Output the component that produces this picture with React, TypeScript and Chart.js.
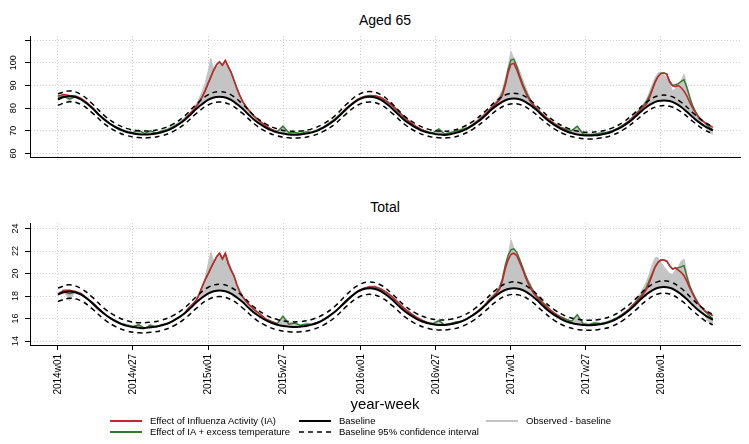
import React, { useEffect, useRef } from 'react';
import { Chart, registerables } from 'chart.js';

Chart.register(...registerables);

const FONT = "'Liberation Sans', Arial, sans-serif";

// x positions are week indices counted from 2014w01 (= 0)
const tickWeeks = [0, 26, 52, 78, 105, 131, 157, 183, 209];
const tickLabels = ['2014w01', '2014w27', '2015w01', '2015w27', '2016w01', '2016w27', '2017w01', '2017w27', '2018w01'];

const weeksBase = [
  0, 2, 4, 6, 8, 10, 12, 14, 16, 18, 20, 22, 24, 26, 28, 30, 32, 34, 36, 38,
  40, 42, 44, 46, 48, 50, 52, 54, 56, 58, 60, 62, 64, 66, 68, 70, 72, 74, 76, 78,
  80, 82, 84, 86, 88, 90, 92, 94, 96, 98, 100, 102, 104, 106, 108, 110, 112, 114, 116, 118,
  120, 122, 124, 126, 128, 130, 132, 134, 136, 138, 140, 142, 144, 146, 148, 150, 152, 154, 156, 158,
  160, 162, 164, 166, 168, 170, 172, 174, 176, 178, 180, 182, 184, 186, 188, 190, 192, 194, 196, 198,
  200, 202, 204, 206, 208, 210, 212, 214, 216, 218, 220, 222, 224, 226, 227,
];

const weeksCI = [
  0, 4, 8, 12, 16, 20, 24, 28, 32, 36, 40, 44, 48, 52, 56, 60, 64, 68, 72, 76,
  80, 84, 88, 92, 96, 100, 104, 108, 112, 116, 120, 124, 128, 132, 136, 140, 144, 148, 152, 156,
  160, 164, 168, 172, 176, 180, 184, 188, 192, 196, 200, 204, 208, 212, 216, 220, 224, 227,
];

const weeksFine = [
  0, 2, 4, 6, 8, 10, 12, 14, 16, 18, 20, 22, 24, 26, 28, 30, 32, 34, 36, 38, 40, 42, 44,
  45, 46, 47, 48, 49, 50, 51, 52, 53, 54, 55, 56, 57, 58, 59, 60, 61, 62, 63, 64, 65, 66, 67, 68, 69, 70,
  72, 74, 76, 78, 80, 82, 84, 86, 88, 90, 92, 94, 96, 98, 100, 102, 104, 106, 108, 110,
  112, 114, 116, 118, 120, 122, 124, 126, 128, 130, 132, 134, 136, 138, 140, 142, 144, 146, 148,
  149, 150, 151, 152, 153, 154, 155, 156, 157, 158, 159, 160, 161, 162, 163, 164, 165, 166, 167, 168, 169, 170, 171, 172,
  174, 176, 178, 180, 182, 184, 186, 188, 190, 192, 194, 196, 198,
  199, 200, 201, 202, 203, 204, 205, 206, 207, 208, 209, 210, 211, 212, 213, 214, 215, 216, 217, 218, 219, 220, 221, 222, 223, 224, 225, 226, 227,
];

// ---------- Aged 65 ----------
const base65 = [
  83.8, 84.9, 85.2, 84.9, 83.8, 82.0, 79.8, 77.3, 75.0, 73.1,
  71.5, 70.3, 69.4, 68.85, 68.5, 68.4, 68.5, 68.8, 69.4, 70.2,
  71.4, 73.0, 74.9, 77.2, 79.7, 81.8, 83.6, 84.7, 85.0, 84.7,
  83.6, 81.8, 79.7, 77.2, 74.9, 73.0, 71.4, 70.2, 69.3, 68.8,
  68.4, 68.3, 68.4, 68.75, 69.3, 70.1, 71.4, 73.0, 74.8, 77.15,
  79.65, 81.8, 83.6, 84.7, 85.0, 84.7, 83.6, 81.8, 79.65, 77.15,
  74.8, 73.0, 71.4, 70.1, 69.3, 68.75, 68.4, 68.2, 68.5, 69.1,
  69.9, 71.1, 72.6, 74.4, 76.6, 79.05, 81.1, 82.8, 83.9, 84.2,
  83.9, 82.8, 81.1, 79.05, 76.6, 74.4, 72.6, 71.1, 69.9, 69.0,
  68.4, 68.0, 67.9, 68.0, 68.3, 68.8, 69.6, 70.8, 72.2, 73.95,
  76.1, 78.4, 80.5, 82.1, 83.1, 83.4, 83.1, 82.1, 80.5, 78.4,
  76.1, 73.95, 72.2, 70.8, 70.2,
];
const upper65 = [
  86.3, 87.6, 86.0, 81.8, 76.8, 73.15, 70.95, 70.0, 70.0, 70.95,
  73.05, 76.7, 81.75, 85.83, 87.3, 85.83, 81.75, 76.7, 73.05, 70.85,
  69.9, 69.9, 70.85, 73.05, 76.6, 81.7, 85.83, 87.3, 85.83, 81.7,
  76.6, 73.05, 70.85, 69.9, 70.0, 71.5, 74.3, 78.5, 83.25, 86.2,
  86.2, 83.25, 78.5, 74.3, 71.5, 69.9, 69.4, 69.8, 71.2, 73.9,
  78.0, 82.65, 85.4, 85.4, 82.65, 78.0, 73.9, 71.8,
];
const lower65 = [
  81.3, 82.8, 81.6, 77.8, 73.2, 69.85, 67.85, 67.0, 67.0, 67.85,
  69.75, 73.1, 77.65, 81.37, 82.7, 81.37, 77.65, 73.1, 69.75, 67.75,
  66.9, 66.9, 67.75, 69.75, 73.0, 77.6, 81.37, 82.7, 81.37, 77.6,
  73.0, 69.75, 67.75, 66.9, 67.0, 68.3, 70.9, 74.7, 78.95, 81.6,
  81.6, 78.95, 74.7, 70.9, 68.3, 66.9, 66.4, 66.8, 68.0, 70.5,
  74.2, 78.35, 80.8, 80.8, 78.35, 74.2, 70.5, 68.6,
];
const obs65 = [
  85.0, 85.8, 82.8, 85.5, 84.5, 82.5, 80.0, 77.0, 75.5, 73.0, 72.0, 70.8, 69.8, 69.5, 70.3, 69.0, 70.2, 69.2, 70.3, 71.0, 72.5, 73.8, 76.0,
  76.8, 78.0, 79.5, 82.0, 84.5, 87.5, 91.0, 96.0, 102.0, 97.0, 98.0, 99.5, 99.0, 100.0, 98.0, 95.0, 91.5, 88.0, 84.5, 82.0, 80.0, 78.5, 77.0, 75.5, 74.5, 73.5,
  72.0, 70.8, 69.8, 72.5, 69.5, 69.5, 68.8, 69.8, 69.5, 70.8, 71.8, 73.8, 75.5, 77.8, 80.0, 82.0, 83.5, 85.0, 85.3, 85.5,
  84.8, 83.0, 81.0, 78.5, 76.0, 74.0, 72.0, 70.8, 69.8, 69.3, 71.0, 68.8, 69.5, 70.0, 71.0, 71.5, 73.5, 75.5, 78.0,
  79.0, 80.5, 82.0, 83.5, 85.5, 88.0, 92.5, 98.0, 105.0, 102.0, 99.5, 96.5, 93.0, 89.5, 86.5, 83.5, 81.5, 79.5, 78.0, 76.5, 75.5, 74.5, 73.5, 72.5,
  71.5, 71.0, 70.3, 72.2, 69.0, 68.5, 68.8, 69.3, 69.5, 70.2, 71.3, 72.8, 74.5,
  76.0, 77.5, 79.0, 80.5, 82.0, 84.0, 87.0, 90.5, 93.5, 95.5, 96.0, 94.5, 93.5, 91.0, 87.5, 88.5, 90.0, 92.0, 95.0, 90.0, 85.0, 81.0, 78.0, 76.0, 74.0, 72.5, 70.5, 69.0, 68.5,
];
const green65 = [
  84.5, 85.3, 84.0, 85.0, 84.0, 82.3, 80.0, 77.3, 75.3, 73.2, 71.8, 70.6, 69.6, 69.2, 70.2, 68.8, 70.0, 69.0, 70.0, 70.5, 71.8, 73.3, 75.2,
  76.6, 77.9, 79.3, 80.9, 82.8, 85.0, 87.6, 90.8, 93.8, 96.8, 99.2, 100.4, 98.9, 101.0, 98.3, 95.8, 92.3, 88.8, 85.6, 83.0, 81.0, 79.3, 77.8, 76.4, 75.2, 74.2,
  71.8, 70.6, 69.6, 72.0, 69.2, 69.3, 68.8, 69.5, 69.3, 70.4, 71.6, 73.3, 75.2, 77.6, 80.0, 82.1, 83.9, 85.0, 85.5, 85.4,
  84.6, 83.0, 81.0, 78.5, 75.8, 73.7, 71.9, 70.5, 69.6, 69.1, 70.8, 68.6, 69.2, 69.8, 70.6, 71.4, 73.0, 75.0, 77.3,
  78.5, 80.0, 81.2, 82.5, 84.0, 86.5, 91.0, 97.0, 101.2, 101.6, 98.5, 94.5, 91.0, 88.0, 85.3, 83.0, 81.3, 79.8, 78.5, 77.3, 76.2, 75.2, 74.2, 73.3,
  71.6, 70.8, 70.0, 72.0, 68.6, 68.4, 68.5, 69.0, 69.2, 70.0, 71.1, 72.6, 74.4,
  75.7, 77.0, 78.3, 79.8, 81.3, 83.0, 85.5, 88.5, 91.8, 94.0, 95.3, 95.5, 95.0, 92.0, 90.0, 90.3, 90.8, 91.8, 92.5, 89.0, 84.8, 81.0, 78.5, 76.3, 75.0, 73.8, 72.5, 71.3, 70.5,
];
const red65 = [
  85.3, 86.0, 85.6, 85.3, 84.3, 82.4, 80.1, 77.4, 75.0, null, null, null, null, null, null, null, null, null, null, null, null, null, 75.4,
  76.6, 77.9, 79.3, 80.9, 82.8, 85.0, 87.6, 90.8, 93.8, 96.8, 99.2, 100.4, 98.9, 101.0, 98.3, 95.8, 92.3, 88.8, 85.6, 83.0, 81.0, 79.3, 77.8, 76.4, 75.2, 74.2,
  72.3, 70.6, 69.5, null, null, null, null, null, null, null, null, null, null, 77.3, 79.9, 82.1, 83.9, 85.0, 85.5, 85.4,
  84.6, 83.0, 81.0, 78.6, 76.0, 73.8, 72.0, 70.5, 69.5, null, null, null, null, null, null, null, 72.8, 74.8, 77.2,
  78.3, 79.8, 81.0, 82.2, 83.5, 85.5, 90.0, 95.5, 99.3, 99.8, 97.0, 93.5, 90.0, 87.0, 84.5, 82.5, 81.0, 79.6, 78.3, 77.1, 76.0, 75.0, 74.0, 73.1,
  71.5, 70.2, null, null, null, null, null, null, null, null, null, 72.5, 74.3,
  75.5, 76.7, 78.0, 79.3, 80.5, 81.8, 84.5, 88.0, 91.5, 94.0, 95.3, 95.5, 95.0, 91.5, 89.8, 89.5, 90.0, 89.0, 87.5, 85.3, 82.5, 80.0, 78.0, 76.0, 74.8, 73.8, 73.0, 72.2, 71.5,
];

// ---------- Total ----------
const baseT = [
  18.12, 18.34, 18.4, 18.34, 18.12, 17.78, 17.36, 16.87, 16.42, 16.06,
  15.75, 15.51, 15.35, 15.24, 15.18, 15.15, 15.23, 15.29, 15.4, 15.56,
  15.81, 16.12, 16.49, 16.95, 17.44, 17.87, 18.22, 18.43, 18.5, 18.43,
  18.22, 17.87, 17.46, 16.97, 16.52, 16.16, 15.85, 15.61, 15.45, 15.34,
  15.28, 15.25, 15.28, 15.34, 15.46, 15.63, 15.89, 16.22, 16.6, 17.08,
  17.6, 18.04, 18.41, 18.63, 18.7, 18.63, 18.42, 18.07, 17.64, 17.15,
  16.69, 16.32, 16.01, 15.76, 15.6, 15.49, 15.43, 15.43, 15.49, 15.6,
  15.76, 16.01, 16.32, 16.69, 17.15, 17.64, 18.07, 18.42, 18.63, 18.7,
  18.63, 18.42, 18.07, 17.64, 17.15, 16.69, 16.32, 16.01, 15.76, 15.6,
  15.49, 15.43, 15.4, 15.43, 15.49, 15.6, 15.77, 16.03, 16.35, 16.73,
  17.2, 17.71, 18.15, 18.51, 18.73, 18.8, 18.73, 18.51, 18.15, 17.71,
  17.2, 16.73, 16.35, 16.03, 15.89,
];
const upperT = [
  18.72, 19.0, 18.66, 17.88, 16.91, 16.22, 15.81, 15.63, 15.68, 15.86,
  16.28, 16.98, 17.96, 18.76, 19.05, 18.76, 17.98, 17.01, 16.32, 15.91,
  15.73, 15.73, 15.92, 16.36, 17.09, 18.12, 18.95, 19.25, 18.96, 18.16,
  17.18, 16.48, 16.06, 15.88, 15.94, 16.22, 16.8, 17.65, 18.6, 19.18,
  19.18, 18.6, 17.65, 16.8, 16.22, 15.94, 15.85, 15.94, 16.23, 16.83,
  17.7, 18.69, 19.28, 19.28, 18.69, 17.7, 16.83, 16.35,
];
const lowerT = [
  17.52, 17.8, 17.58, 16.84, 15.93, 15.28, 14.89, 14.73, 14.78, 14.94,
  15.34, 16.0, 16.92, 17.68, 17.95, 17.68, 16.94, 16.03, 15.38, 14.99,
  14.83, 14.83, 15.0, 15.42, 16.11, 17.08, 17.87, 18.15, 17.88, 17.12,
  16.2, 15.54, 15.14, 14.98, 15.04, 15.3, 15.84, 16.65, 17.54, 18.08,
  18.08, 17.54, 16.65, 15.84, 15.3, 15.04, 14.95, 15.04, 15.31, 15.87,
  16.7, 17.61, 18.18, 18.18, 17.61, 16.7, 15.87, 15.43,
];
const obsT = [
  18.3, 18.5, 17.6, 18.4, 18.3, 17.9, 17.2, 16.7, 16.5, 16.0, 15.9, 15.6, 15.5, 15.3, 15.5, 15.1, 15.5, 15.2, 15.5, 15.5, 15.9, 16.0, 16.5,
  16.9, 17.1, 17.4, 17.7, 18.2, 18.8, 19.6, 20.8, 21.9, 21.1, 21.3, 21.6, 21.4, 21.7, 21.2, 20.5, 19.7, 18.9, 18.3, 17.8, 17.5, 17.2, 16.9, 16.7, 16.5, 16.2,
  16.0, 15.8, 15.6, 16.3, 15.6, 15.7, 15.4, 15.6, 15.5, 15.7, 15.9, 16.3, 16.6, 17.0, 17.5, 18.0, 18.4, 18.7, 18.9, 18.9,
  18.7, 18.3, 17.9, 17.4, 16.9, 16.5, 16.2, 15.9, 15.7, 15.6, 15.9, 15.5, 15.6, 15.7, 15.8, 16.0, 16.4, 16.8, 17.3,
  17.6, 17.9, 18.2, 18.5, 18.9, 19.6, 20.6, 21.6, 23.0, 22.3, 21.8, 21.2, 20.6, 20.0, 19.4, 18.9, 18.4, 18.0, 17.6, 17.3, 17.0, 16.8, 16.6, 16.4,
  16.2, 16.0, 15.8, 16.3, 15.6, 15.5, 15.7, 15.6, 15.7, 15.9, 16.1, 16.5, 16.9,
  17.2, 17.5, 17.9, 18.3, 18.8, 19.3, 20.0, 20.8, 21.4, 21.4, 21.0, 20.6, 20.3, 20.0, 19.9, 20.3, 20.6, 21.1, 21.3, 20.0, 19.0, 18.3, 17.8, 17.2, 16.8, 16.4, 15.9, 15.6, 15.5,
];
const greenT = [
  18.2, 18.4, 18.2, 18.35, 18.15, 17.8, 17.3, 16.85, 16.45, 16.05, 15.8, 15.55, 15.4, 15.3, 15.45, 15.15, 15.4, 15.25, 15.45, 15.55, 15.8, 16.1, 16.45,
  16.85, 17.1, 17.35, 17.65, 18.2, 18.85, 19.45, 19.95, 20.5, 21.0, 21.5, 21.8, 21.3, 21.8, 20.9, 20.3, 19.8, 19.0, 18.4, 17.95, 17.6, 17.3, 17.05, 16.8, 16.6, 16.4,
  15.95, 15.75, 15.55, 16.2, 15.5, 15.6, 15.4, 15.5, 15.5, 15.65, 15.9, 16.25, 16.6, 17.05, 17.5, 18.0, 18.4, 18.65, 18.8, 18.8,
  18.6, 18.3, 17.9, 17.4, 16.9, 16.5, 16.15, 15.85, 15.65, 15.55, 15.8, 15.45, 15.55, 15.7, 15.75, 16.0, 16.35, 16.75, 17.2,
  17.55, 17.8, 18.05, 18.3, 18.7, 19.5, 20.7, 21.6, 22.1, 22.2, 21.9, 21.3, 20.6, 19.9, 19.3, 18.8, 18.35, 18.0, 17.7, 17.45, 17.2, 16.95, 16.7, 16.5,
  16.2, 15.95, 15.75, 16.35, 15.55, 15.45, 15.6, 15.55, 15.65, 15.85, 16.1, 16.45, 16.85,
  17.15, 17.4, 17.7, 18.0, 18.35, 18.8, 19.4, 20.0, 20.6, 21.0, 21.2, 21.2, 21.1, 20.7, 20.4, 20.5, 20.5, 20.6, 20.7, 19.7, 18.9, 18.3, 17.8, 17.35, 17.0, 16.7, 16.45, 16.2, 16.0,
];
const redT = [
  18.15, 18.5, 18.5, 18.4, 18.2, 17.8, 17.4, 16.9, 16.45, null, null, null, null, null, null, null, null, null, null, null, null, null, 16.5,
  16.85, 17.1, 17.35, 17.65, 18.2, 18.85, 19.45, 19.95, 20.5, 21.0, 21.5, 21.8, 21.3, 21.8, 20.9, 20.3, 19.8, 19.0, 18.4, 17.95, 17.6, 17.3, 17.05, 16.8, 16.6, 16.4,
  15.95, 15.7, 15.5, null, null, null, null, null, null, null, null, null, null, 17.1, 17.55, 18.05, 18.45, 18.7, 18.8, 18.8,
  18.6, 18.3, 17.9, 17.4, 16.9, 16.5, 16.15, 15.85, 15.65, null, null, null, null, null, null, null, 16.35, 16.75, 17.2,
  17.5, 17.75, 18.0, 18.25, 18.6, 19.3, 20.4, 21.2, 21.7, 21.8, 21.6, 21.0, 20.4, 19.7, 19.1, 18.6, 18.2, 17.9, 17.6, 17.35, 17.1, 16.85, 16.65, 16.45,
  16.1, 15.85, null, null, null, null, null, null, null, null, null, 16.4, 16.8,
  17.1, 17.35, 17.6, 17.9, 18.2, 18.6, 19.2, 19.9, 20.6, 21.0, 21.2, 21.2, 21.1, 20.7, 20.4, 20.5, 20.3, 20.1, 19.8, 19.3, 18.7, 18.2, 17.7, 17.3, 17.0, 16.75, 16.55, 16.4, 16.25,
];

const yTicks65 = [60, 70, 80, 90, 100, 110];
const yTicksT = [14, 16, 18, 20, 22, 24];

const RED = '#c0282d';
const GREEN = '#2f7a2f';
const GRAY_LINE = '#c4c4c4';
const GRAY_FILL = 'rgba(196,196,196,1)';

type PanelData = {
  base: number[]; upper: number[]; lower: number[];
  obs: number[]; green: (number | null)[]; red: (number | null)[];
  yMin: number; yMax: number; yTicks: number[]; hideLabel: number | null;
};

const pts = (xs: number[], ys: (number | null)[]) => xs.map((x, i) => ({ x, y: ys[i] }));

function makeConfig(p: PanelData, bottom: boolean, xAxisHeight: number): any {
  return {
    type: 'line',
    data: {
      datasets: [
        { data: pts(weeksCI, p.upper), borderColor: '#000', borderWidth: 1.5, borderDash: [5, 4], pointRadius: 0, tension: 0.4, fill: false },
        { data: pts(weeksCI, p.lower), borderColor: '#000', borderWidth: 1.5, borderDash: [5, 4], pointRadius: 0, tension: 0.4, fill: false },
        { data: pts(weeksBase, p.base), borderColor: '#000', borderWidth: 2, pointRadius: 0, tension: 0.4, fill: false },
        { data: pts(weeksFine, p.red), borderColor: RED, borderWidth: 1.6, pointRadius: 0, tension: 0, fill: false, spanGaps: false },
        { data: pts(weeksFine, p.green), borderColor: GREEN, borderWidth: 1.4, pointRadius: 0, tension: 0, fill: false },
        { data: pts(weeksFine, p.obs), borderColor: GRAY_LINE, backgroundColor: GRAY_FILL, borderWidth: 1, pointRadius: 0, tension: 0, fill: 2 },
      ],
    },
    options: {
      responsive: false,
      animation: false,
      events: [],
      layout: { padding: { top: bottom ? 48 : 36, right: 9, left: 0, bottom: 0 } },
      plugins: { legend: { display: false }, tooltip: { enabled: false }, title: { display: false } },
      scales: {
        x: {
          type: 'linear',
          min: -9.7,
          max: 236.4,
          afterBuildTicks: (s: any) => { s.ticks = tickWeeks.map((v) => ({ value: v })); },
          afterFit: (s: any) => { s.height = xAxisHeight; },
          ticks: {
            display: bottom,
            autoSkip: false,
            minRotation: 90,
            maxRotation: 90,
            padding: 4,
            color: '#000',
            font: { family: FONT, size: 10 },
            callback: (_v: any, i: number) => tickLabels[i],
          },
          grid: { color: '#cfcfcf', lineWidth: 1, drawTicks: bottom, tickLength: 5, tickColor: '#000', tickWidth: 1 },
          border: { color: '#000', width: 1, dash: [1, 2] },
          title: bottom
            ? { display: true, text: 'year-week', color: '#000', font: { family: FONT, size: 15 }, padding: { top: 0, bottom: 1 } }
            : { display: false },
        },
        y: {
          type: 'linear',
          min: p.yMin,
          max: p.yMax,
          afterBuildTicks: (s: any) => { s.ticks = p.yTicks.map((v) => ({ value: v })); },
          afterFit: (s: any) => { s.width = 30; },
          ticks: {
            minRotation: 90,
            maxRotation: 90,
            crossAlign: 'center',
            padding: 4,
            color: '#000',
            font: { family: FONT, size: 9 },
            callback: (v: any) => (p.hideLabel !== null && v === p.hideLabel ? '' : String(v)),
          },
          grid: { color: '#cfcfcf', lineWidth: 1, drawTicks: true, tickLength: 5, tickColor: '#000', tickWidth: 1 },
          border: { color: '#000', width: 1, dash: [1, 2] },
        },
      },
    },
  };
}

const panel65: PanelData = {
  base: base65, upper: upper65, lower: lower65, obs: obs65, green: green65, red: red65,
  yMin: 58.45, yMax: 111.8, yTicks: yTicks65, hideLabel: 110,
};
const panelT: PanelData = {
  base: baseT, upper: upperT, lower: lowerT, obs: obsT, green: greenT, red: redT,
  yMin: 13.65, yMax: 24.49, yTicks: yTicksT, hideLabel: null,
};

const legendItems = [
  { x: 110, y: 421, color: RED, dash: '', label: 'Effect of Influenza Activity (IA)' },
  { x: 110, y: 432, color: GREEN, dash: '', label: 'Effect of IA + excess temperature' },
  { x: 299, y: 421, color: '#000', dash: '', label: 'Baseline' },
  { x: 299, y: 432, color: '#000', dash: '5,4', label: 'Baseline 95% confidence interval' },
  { x: 486, y: 421, color: GRAY_LINE, dash: '', label: 'Observed - baseline' },
];

export default function App() {
  const ref1 = useRef<HTMLCanvasElement>(null);
  const ref2 = useRef<HTMLCanvasElement>(null);

  useEffect(() => {
    const c1 = new Chart(ref1.current as HTMLCanvasElement, makeConfig(panel65, false, 13));
    const c2 = new Chart(ref2.current as HTMLCanvasElement, makeConfig(panelT, true, 70));
    return () => { c1.destroy(); c2.destroy(); };
  }, []);

  const titleStyle = (top: number): React.CSSProperties => ({
    position: 'absolute', left: 30, width: 710, top, textAlign: 'center',
    fontFamily: FONT, fontSize: 14, lineHeight: '16px', color: '#000',
  });

  return (
    <div style={{ position: 'absolute', left: 0, top: 0, width: 749, height: 444, background: '#fff', overflow: 'hidden' }}>
      <div style={titleStyle(12)}>Aged 65</div>
      <canvas ref={ref1} width={749} height={170} style={{ position: 'absolute', left: 0, top: 0, width: 749, height: 170 }} />
      <div style={titleStyle(199)}>Total</div>
      <canvas ref={ref2} width={749} height={240} style={{ position: 'absolute', left: 0, top: 175, width: 749, height: 240 }} />
      <svg width={749} height={444} style={{ position: 'absolute', left: 0, top: 0, pointerEvents: 'none' }}>
        {legendItems.map((it, i) => (
          <line key={i} x1={it.x} x2={it.x + 32} y1={it.y} y2={it.y} stroke={it.color}
            strokeWidth={it.dash ? 1.5 : 2} strokeDasharray={it.dash || undefined} />
        ))}
      </svg>
      {legendItems.map((it, i) => (
        <div key={i} style={{
          position: 'absolute', left: it.x + 40, top: it.y - 6, fontFamily: FONT, fontSize: 9.5,
          lineHeight: '12px', color: '#000', whiteSpace: 'nowrap',
        }}>{it.label}</div>
      ))}
    </div>
  );
}
